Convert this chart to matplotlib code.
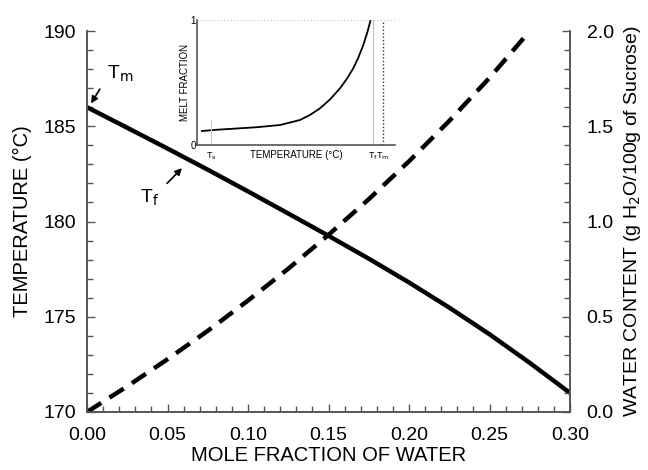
import matplotlib
matplotlib.use("Agg")
import matplotlib.pyplot as plt
from matplotlib.ticker import MultipleLocator, FormatStrFormatter

plt.rcParams['font.family'] = ['Liberation Sans', 'DejaVu Sans']

# Main data
mole_fraction = [0.00, 0.025, 0.05, 0.075, 0.10, 0.125, 0.15, 0.175, 0.20, 0.225, 0.25, 0.275, 0.30]
temperature = [186.0, 184.92, 183.83, 182.72, 181.58, 180.42, 179.25, 178.05, 176.8, 175.48, 174.08, 172.58, 171.0]

mole_fraction_w = [0.00, 0.025, 0.05, 0.075, 0.10, 0.125, 0.15, 0.175, 0.20, 0.225, 0.25, 0.273]
water_content = [0.0, 0.135, 0.277, 0.426, 0.585, 0.752, 0.93, 1.117, 1.316, 1.528, 1.754, 1.98]

# Inset data (arbitrary temperature scale)
inset_temp = [0.025, 0.10, 0.20, 0.30, 0.42, 0.52, 0.57, 0.621, 0.672, 0.722, 0.757, 0.789, 0.815, 0.84, 0.86, 0.877]
melt_fraction = [0.112, 0.122, 0.132, 0.142, 0.16, 0.20, 0.24, 0.293, 0.365, 0.453, 0.53, 0.613, 0.70, 0.80, 0.90, 1.0]
inset_ticks = [0.07, 0.887, 0.938]
inset_tick_labels = [r'T$_\mathrm{s}$', r'T$_\mathrm{f}$', r'T$_\mathrm{m}$']

W, H = 648, 470
fig = plt.figure(figsize=(W / 100, H / 100), dpi=100)
ax = fig.add_axes([87 / W, 1 - 412 / H, (570 - 87) / W, (412 - 31) / H])
spine_c = '#555555'

ax.plot(mole_fraction, temperature, color='black', lw=3.2, solid_capstyle='butt',
        solid_joinstyle='round')
ax.set_xlim(0, 0.30)
ax.set_ylim(170, 190)
ax.xaxis.set_major_locator(MultipleLocator(0.05))
ax.xaxis.set_minor_locator(MultipleLocator(0.01))
ax.yaxis.set_major_locator(MultipleLocator(5))
ax.yaxis.set_minor_locator(MultipleLocator(1))
ax.xaxis.set_major_formatter(FormatStrFormatter('%.2f'))
ax.tick_params(which='both', direction='in', colors=spine_c, labelcolor='black', labelsize=14)
ax.tick_params(which='major', length=6, width=1)
ax.tick_params(which='minor', length=4, width=1)
ax.tick_params(axis='x', pad=11)
ax.tick_params(axis='y', pad=8)
ax.spines['top'].set_visible(False)
for s in ['left', 'bottom', 'right']:
    ax.spines[s].set_color(spine_c)
    ax.spines[s].set_linewidth(1.2)
ax.set_xlabel('MOLE FRACTION OF WATER', fontsize=14.5, labelpad=1)
ax.set_ylabel('TEMPERATURE (°C)', fontsize=14.5, labelpad=8)

ax2 = ax.twinx()
ax2.plot(mole_fraction_w, water_content, color='black', lw=3.2, dashes=(3.8, 2.2))
ax2.set_ylim(0, 2.0)
ax2.yaxis.set_major_locator(MultipleLocator(0.5))
ax2.yaxis.set_minor_locator(MultipleLocator(0.1))
ax2.yaxis.set_major_formatter(FormatStrFormatter('%.1f'))
ax2.tick_params(which='both', direction='in', colors=spine_c, labelcolor='black', labelsize=14)
ax2.tick_params(which='major', length=6, width=1, pad=12)
ax2.tick_params(which='minor', length=4, width=1)
ax2.spines['top'].set_visible(False)
for s in ['left', 'bottom', 'right']:
    ax2.spines[s].set_color(spine_c)
    ax2.spines[s].set_linewidth(1.2)
ax2.set_ylabel(r'WATER CONTENT (g H$_\mathrm{2}$O/100g of Sucrose)', fontsize=14, labelpad=6)

# Annotations
arrow = dict(arrowstyle='-|>', color='black', lw=1.2, mutation_scale=10, shrinkA=0, shrinkB=0)
ax.annotate('', xy=(0.0025, 186.2), xytext=(0.008, 186.95), arrowprops=arrow)
ax.text(0.0125, 187.75, r'T$_\mathrm{m}$', fontsize=14, ha='left', va='center')
ax.annotate('', xy=(0.059, 182.8), xytext=(0.0497, 182.0), arrowprops=arrow)
ax.text(0.045, 181.25, r'T$_\mathrm{f}$', fontsize=14, ha='right', va='center')

# Inset
ins = fig.add_axes([197 / W, 1 - 145 / H, (395 - 197) / W, (145 - 20) / H])
ins.plot(inset_temp, melt_fraction, color='black', lw=1.3)
ins.set_xlim(0, 1)
ins.set_ylim(0, 1)
ins.axhline(1.0, color='#bbbbbb', lw=0.8, ls=(0, (1, 2)))
ins.plot([inset_ticks[0], inset_ticks[0]], [0, 0.2], color='#cccccc', lw=0.8)
ins.axvline(inset_ticks[1], color='#bbbbbb', lw=0.8)
ins.axvline(inset_ticks[2], color='#333333', lw=1.0, ls=(0, (1, 1.5)))
ins.spines['top'].set_visible(False)
ins.spines['right'].set_visible(False)
ins.spines['left'].set_color('#555555')
ins.spines['bottom'].set_color('#555555')
ins.spines['left'].set_linewidth(1.2)
ins.spines['bottom'].set_linewidth(1.2)
ins.set_yticks([0, 1])
ins.set_yticklabels(['0', '1'])
ins.set_xticks([])
for xt, lab in zip(inset_ticks, inset_tick_labels):
    ins.text(xt, -0.04, lab, fontsize=6.5, ha='center', va='top',
             transform=ins.get_xaxis_transform())
ins.tick_params(length=0, labelsize=7, pad=1)
ins.text(0.5, -0.04, 'TEMPERATURE (°C)', fontsize=7, ha='center', va='top',
         transform=ins.transAxes)
ins.set_ylabel('MELT FRACTION', fontsize=7, labelpad=0)
ins.patch.set_alpha(0)

fig.savefig('out.png', dpi=100)
